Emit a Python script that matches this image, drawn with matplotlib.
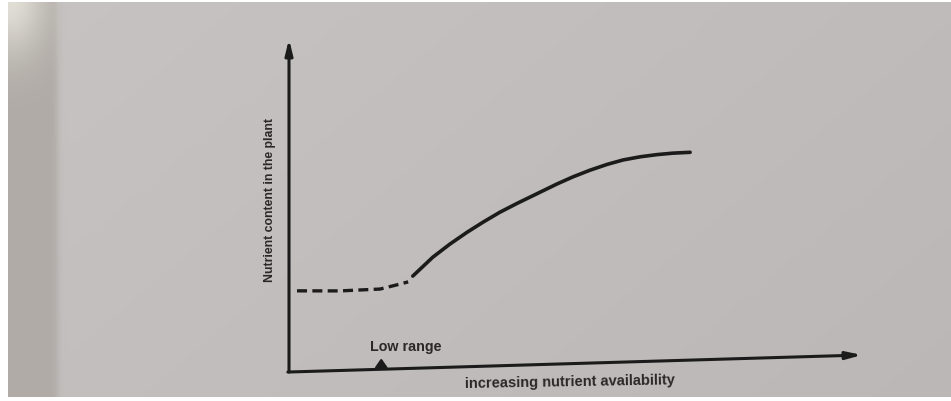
import numpy as np
import matplotlib.pyplot as plt
from matplotlib.transforms import Affine2D

# schematic curve (x: availability, y: nutrient content)
low_x = [0.14, 0.89, 1.59, 1.88, 2.08]
low_y = [2.43, 2.39, 2.41, 2.52, 2.60]
high_x = [2.16, 2.51, 2.81, 3.11, 3.39, 3.68, 3.98, 4.26, 4.68,
          4.96, 5.25, 5.55, 5.83, 6.13, 6.42, 6.70, 7.00]
high_y = [2.77, 3.32, 3.70, 4.04, 4.33, 4.61, 4.86, 5.08, 5.41,
          5.61, 5.79, 5.95, 6.07, 6.15, 6.20, 6.23, 6.24]

ylabel = 'Nutrient content in the plant'
xlabel = 'increasing nutrient availability'
low_label = 'Low range'
low_pos = 1.61

W, H = 951, 402
fig = plt.figure(figsize=(W / 100, H / 100), dpi=100)

# photographed paper background
bg = fig.add_axes([0, 0, 1, 1], zorder=-5)
px = np.arange(W)[None, :]
py = np.arange(H)[:, None]
paper = np.array([199, 195, 194]) / 255.0
img = np.ones((H, W, 3)) * paper
img = img * (1 - 0.04 * px / W - 0.02 * py / H)[:, :, None]
# darker strip on the left edge (page curve)
edge = 1 / (1 + np.exp((px - 57) / 2.0))
strip_col = np.array([176, 171, 166]) / 255.0
img = img * (1 - edge[:, :, None]) + strip_col * edge[:, :, None]
# light from top left
glow = np.exp(-((px - 10) / 35.0) ** 2 - (py / 55.0) ** 2) * (px < 60)
img = img * (1 - glow[:, :, None]) + np.array([225, 222, 214]) / 255.0 * glow[:, :, None]
img[:, :8] = 1.0
img[:3, :] = 1.0
img[-4:, :] = 1.0
bg.imshow(np.clip(img, 0, 1), aspect='auto', interpolation='bilinear')
bg.axis('off')

ox, oy = 289, 402 - 373
ax = fig.add_axes([ox / W, oy / H, (862 - ox) / W, (373 - 40) / H])
ax.set_xlim(0, 10)
ax.set_ylim(0, 10)
ax.axis('off')
# page is slightly tilted in the photo
skew = Affine2D().translate(-ox, -oy).skew(0, np.arctan(17 / 573)).translate(ox, oy)
tr = ax.transData + skew

ink = '#1c1b1b'
arrow = dict(arrowstyle='-|>,head_length=0.9,head_width=0.22', color=ink, lw=2.2,
             shrinkA=0, shrinkB=0)
ax.annotate('', xy=(0, 10), xytext=(0, 0), xycoords=tr, textcoords=tr,
            arrowprops=arrow, annotation_clip=False)
ax.annotate('', xy=(10, 0), xytext=(-0.02, 0), xycoords=tr, textcoords=tr,
            arrowprops=arrow, annotation_clip=False)

ax.plot(low_x, low_y, color=ink, lw=2.4, dashes=(3, 1.6), transform=tr,
        clip_on=False, solid_capstyle='butt')
ax.plot(high_x, high_y, color=ink, lw=2.6, transform=tr, clip_on=False,
        solid_capstyle='round', solid_joinstyle='round')

font = ['Liberation Sans', 'DejaVu Sans']
ax.text(-0.33, 5.2, ylabel, transform=tr, rotation=90, ha='center', va='center',
        fontsize=8.8, fontweight='bold', family=font, color='#2a2828')
ax.text(low_pos + 0.43, 0.68, low_label, transform=tr, ha='center', va='center',
        fontsize=10.3, fontweight='bold', family=font, color='#2a2828')
ax.annotate('', xy=(low_pos, 0.33), xytext=(low_pos, 0.05), xycoords=tr, textcoords=tr,
            arrowprops=dict(arrowstyle='-|>,head_length=0.5,head_width=0.35',
                            color=ink, lw=2, shrinkA=0, shrinkB=0),
            annotation_clip=False)
ax.text(4.9, -0.52, xlabel, transform=tr, ha='center', va='center', rotation=1.0,
        fontsize=10.5, fontweight='bold', family=font, color='#2a2828')

fig.savefig('out.png', dpi=100)
